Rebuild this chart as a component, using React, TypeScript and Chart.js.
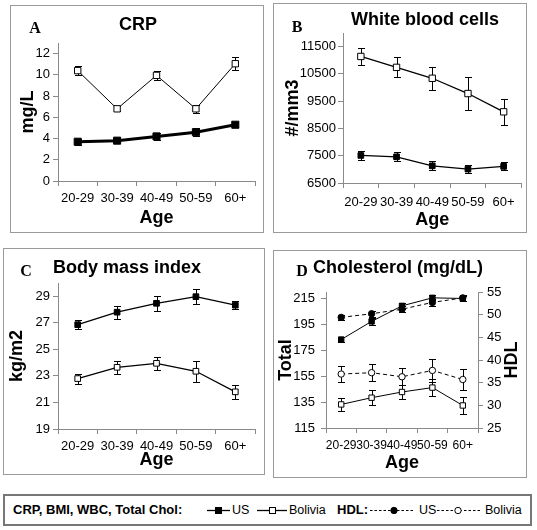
import React, { useEffect, useRef } from 'react';
import { Chart, registerables } from 'chart.js';

Chart.register(...registerables);

const SANS = "'Liberation Sans', Arial, Helvetica, sans-serif";
const SERIF = "'Liberation Serif', 'Times New Roman', serif";
Chart.defaults.font.family = SANS;
Chart.defaults.color = '#000';

// ---------- data ----------
const ageGroups = ['20-29', '30-39', '40-49', '50-59', '60+'];

const crpUS = [3.7, 3.8, 4.2, 4.6, 5.3];
const crpUSErr = [0.3, 0.2, 0.3, 0.4, 0.25];
const crpBolivia = [10.4, 6.8, 9.95, 6.8, 11.05];
const crpBoliviaErr = [0.4, 0.25, 0.45, 0.4, 0.6];
const crpTicks = [0, 2, 4, 6, 8, 10, 12];

const wbcUS = [7510, 7460, 7130, 7010, 7110];
const wbcUSErr = [180, 170, 170, 160, 150];
const wbcBolivia = [11140, 10740, 10340, 9780, 9110];
const wbcBoliviaErr = [310, 370, 430, 590, 470];
const wbcTicks = [6500, 7500, 8500, 9500, 10500, 11500];

const bmiUS = [26.86, 27.8, 28.47, 28.97, 28.33];
const bmiUSErr = [0.35, 0.48, 0.58, 0.55, 0.28];
const bmiBolivia = [22.8, 23.65, 23.95, 23.35, 21.8];
const bmiBoliviaErr = [0.38, 0.48, 0.5, 0.78, 0.55];
const bmiTicks = [19, 21, 23, 25, 27, 29];

const cholUS = [183.3, 197.3, 209.3, 215.5, 215.0];
const cholUSErr = [2, 2.5, 2.5, 2, 2];
const cholBolivia = [133.2, 138.4, 142.8, 146.2, 132.4];
const cholBoliviaErr = [5.2, 5.6, 5.5, 6.8, 6.9];
const cholTicks = [115, 135, 155, 175, 195, 215];

const hdlUS = [49.4, 50.2, 51.2, 52.7, 53.7];
const hdlUSErr = [0.5, 0.7, 0.7, 0.8, 0.6];
const hdlBolivia = [36.9, 37.2, 36.3, 37.7, 35.7];
const hdlBoliviaErr = [1.8, 1.9, 1.9, 2.6, 2.4];
const hdlTicks = [25, 30, 35, 40, 45, 50, 55];

// ---------- plugins ----------
const errorBarPlugin = {
  id: 'errorBars',
  beforeDatasetsDraw(chart: any) {
    const ctx = chart.ctx;
    chart.data.datasets.forEach((ds: any, i: number) => {
      const errs = ds.errors;
      if (!errs) return;
      const meta = chart.getDatasetMeta(i);
      const ys = chart.scales[meta.yAxisID];
      ctx.save();
      ctx.strokeStyle = '#000';
      ctx.lineWidth = 1;
      ctx.setLineDash([]);
      meta.data.forEach((pt: any, j: number) => {
        const v = ds.data[j];
        const e = errs[j];
        const x = Math.round(pt.x) + 0.5;
        const y1 = Math.round(ys.getPixelForValue(v + e)) + 0.5;
        const y2 = Math.round(ys.getPixelForValue(v - e)) + 0.5;
        ctx.beginPath();
        ctx.moveTo(x, y1);
        ctx.lineTo(x, y2);
        ctx.moveTo(x - 3.5, y1);
        ctx.lineTo(x + 3.5, y1);
        ctx.moveTo(x - 3.5, y2);
        ctx.lineTo(x + 3.5, y2);
        ctx.stroke();
      });
      ctx.restore();
    });
  },
};

const panelTextPlugin = {
  id: 'panelText',
  afterDraw(chart: any, _args: any, opts: any) {
    const ctx = chart.ctx;
    ctx.save();
    ctx.fillStyle = '#000';
    ctx.textAlign = 'center';
    ctx.textBaseline = 'middle';
    ctx.font = `bold 18px ${SANS}`;
    ctx.fillText(opts.title, opts.titleX, opts.titleY);
    ctx.font = `bold 16px ${SERIF}`;
    ctx.fillText(opts.letter, opts.letterX, opts.letterY);
    if (opts.sideText) {
      ctx.font = `bold 18px ${SANS}`;
      ctx.translate(opts.sideX, opts.sideY);
      ctx.rotate(-Math.PI / 2);
      ctx.fillText(opts.sideText, 0, 0);
    }
    ctx.restore();
  },
};

// ---------- helpers ----------
const AXIS = '#8a8a8a';

function xScale(height: number, labelPad: number, titlePad: number, fontSize = 13) {
  return {
    type: 'category',
    offset: true,
    grid: { display: true, drawOnChartArea: false, drawTicks: true, tickLength: 5, color: AXIS, offset: true },
    border: { display: true, color: AXIS, width: 1 },
    ticks: { color: '#000', font: { size: fontSize }, padding: labelPad, autoSkip: false, maxRotation: 0, minRotation: 0 },
    title: { display: true, text: 'Age', color: '#000', font: { size: 18, weight: 'bold', lineHeight: 1.2 }, padding: { top: 0, bottom: titlePad } },
    afterFit: (s: any) => { s.height = height; },
  };
}

function yScale(o: { width: number; min: number; max: number; ticks: number[]; title?: string; titlePad?: number; labelPad: number; position?: string }) {
  return {
    type: 'linear',
    position: o.position || 'left',
    min: o.min,
    max: o.max,
    bounds: 'data',
    grid: { display: true, drawOnChartArea: false, drawTicks: true, tickLength: 5, color: AXIS },
    border: { display: true, color: AXIS, width: 1 },
    ticks: { color: '#000', font: { size: 13 }, padding: o.labelPad, autoSkip: false, callback: (v: any) => String(v) },
    title: o.title
      ? { display: true, text: o.title, color: '#000', font: { size: 18, weight: 'bold', lineHeight: 1.2 }, padding: { top: o.titlePad || 0, bottom: 0 } }
      : { display: false },
    afterBuildTicks: (s: any) => { s.ticks = o.ticks.map((v) => ({ value: v })); },
    afterFit: (s: any) => { s.width = o.width; },
  };
}

function usSet(data: number[], errors: number[], extra: any = {}) {
  return {
    label: 'US', data, errors,
    borderColor: '#000', backgroundColor: '#000',
    pointStyle: 'rect', pointRadius: 4.5, pointBackgroundColor: '#000', pointBorderColor: '#000', pointBorderWidth: 1,
    borderWidth: 1.3, tension: 0, fill: false,
    ...extra,
  };
}

function bolSet(data: number[], errors: number[], extra: any = {}) {
  return {
    label: 'Bolivia', data, errors,
    borderColor: '#000', backgroundColor: '#fff',
    pointStyle: 'rect', pointRadius: 4.5, pointBackgroundColor: '#fff', pointBorderColor: '#000', pointBorderWidth: 1,
    borderWidth: 1.3, tension: 0, fill: false,
    ...extra,
  };
}

function baseOptions(padTop: number, padRight: number, scales: any, text: any) {
  return {
    responsive: false,
    animation: false,
    events: [],
    layout: { padding: { top: padTop, right: padRight, left: 0, bottom: 0 } },
    scales,
    plugins: { legend: { display: false }, tooltip: { enabled: false }, title: { display: false }, panelText: text },
  };
}

const configA = () => ({
  type: 'line',
  data: {
    labels: ageGroups,
    datasets: [
      usSet(crpUS, crpUSErr, { borderWidth: 3, pointRadius: 5 }),
      bolSet(crpBolivia, crpBoliviaErr, { borderWidth: 1, pointRadius: 4.5 }),
    ],
  },
  options: baseOptions(38, 9, {
    x: xScale(52, 5, 4),
    y: yScale({ width: 48, min: 0, max: 13, ticks: crpTicks, title: 'mg/L', titlePad: 7, labelPad: 3 }),
  }, { title: 'CRP', titleX: 128, titleY: 20, letter: 'A', letterX: 25, letterY: 24 }),
  plugins: [errorBarPlugin, panelTextPlugin],
});

const configB = () => ({
  type: 'line',
  data: {
    labels: ageGroups,
    datasets: [
      usSet(wbcUS, wbcUSErr, { pointRadius: 4 }),
      bolSet(wbcBolivia, wbcBoliviaErr, { pointRadius: 4.5 }),
    ],
  },
  options: baseOptions(30, 4, {
    x: xScale(50, 7, 2),
    y: yScale({ width: 70, min: 6500, max: 12000, ticks: wbcTicks, title: '#/mm3', titlePad: 9, labelPad: 2 }),
  }, { title: 'White blood cells', titleX: 152, titleY: 17, letter: 'B', letterX: 24, letterY: 25 }),
  plugins: [errorBarPlugin, panelTextPlugin],
});

const configC = () => ({
  type: 'line',
  data: {
    labels: ageGroups,
    datasets: [
      usSet(bmiUS, bmiUSErr, { pointRadius: 4 }),
      bolSet(bmiBolivia, bmiBoliviaErr, { pointRadius: 4 }),
    ],
  },
  options: baseOptions(35, 10, {
    x: xScale(46, 5, 4),
    y: yScale({ width: 55, min: 19, max: 30, ticks: bmiTicks, title: 'kg/m2', titlePad: 3, labelPad: 3 }),
  }, { title: 'Body mass index', titleX: 124, titleY: 20, letter: 'C', letterX: 23, letterY: 24 }),
  plugins: [errorBarPlugin, panelTextPlugin],
});

const configD = () => ({
  type: 'line',
  data: {
    labels: ageGroups,
    datasets: [
      usSet(cholUS, cholUSErr, { borderWidth: 1, pointRadius: 3.8, yAxisID: 'y' }),
      bolSet(cholBolivia, cholBoliviaErr, { borderWidth: 1, pointRadius: 3.8, yAxisID: 'y' }),
      usSet(hdlUS, hdlUSErr, { label: 'US HDL', borderWidth: 1, pointStyle: 'circle', pointRadius: 3.2, borderDash: [4, 3], yAxisID: 'y1' }),
      bolSet(hdlBolivia, hdlBoliviaErr, { label: 'Bolivia HDL', borderWidth: 1, pointStyle: 'circle', pointRadius: 3.2, borderDash: [4, 3], yAxisID: 'y1' }),
    ],
  },
  options: baseOptions(42, 0, {
    x: xScale(50, 5, 4, 12),
    y: yScale({ width: 53, min: 115, max: 220, ticks: cholTicks, title: 'Total', titlePad: 2, labelPad: 6 }),
    y1: yScale({ width: 49, min: 25, max: 55, ticks: hdlTicks, labelPad: 4, position: 'right' }),
  }, { title: 'Cholesterol (mg/dL)', titleX: 125, titleY: 18, letter: 'D', letterX: 29, letterY: 22, sideText: 'HDL', sideX: 239, sideY: 110 }),
  plugins: [errorBarPlugin, panelTextPlugin],
});

function ChartPanel(props: { left: number; top: number; width: number; height: number; config: () => any }) {
  const ref = useRef<HTMLCanvasElement>(null);
  useEffect(() => {
    const chart = new Chart(ref.current as HTMLCanvasElement, props.config() as any);
    return () => chart.destroy();
  }, []);
  const { left, top, width, height } = props;
  return (
    <>
      <div style={{ position: 'absolute', left, top, width, height, border: '1px solid #9a9a9a', boxSizing: 'border-box' }} />
      <canvas ref={ref} width={width} height={height} style={{ position: 'absolute', left, top, width, height }} />
    </>
  );
}

function Legend() {
  const txt = (left: number, text: string, bold = false) => (
    <span style={{
      position: 'absolute', left, top: 502, lineHeight: '16px', fontFamily: SANS,
      fontSize: bold ? 13 : 12.5, fontWeight: bold ? 'bold' : 'normal', color: '#000', whiteSpace: 'nowrap',
    }}>{text}</span>
  );
  return (
    <>
      <div style={{ position: 'absolute', left: 3, top: 494, width: 529, height: 32, border: '2px solid #777', boxSizing: 'border-box' }} />
      {txt(13, 'CRP, BMI, WBC, Total Chol:', true)}
      {txt(232, 'US')}
      {txt(289, 'Bolivia')}
      {txt(337, 'HDL:', true)}
      {txt(419, 'US')}
      {txt(485, 'Bolivia')}
      <svg width={537} height={20} style={{ position: 'absolute', left: 0, top: 500 }}>
        <line x1={207} x2={230} y1={10.5} y2={10.5} stroke="#000" strokeWidth={1.3} />
        <rect x={215.5} y={7.5} width={6} height={6} fill="#000" stroke="#000" strokeWidth={1} />
        <line x1={257} x2={287} y1={10.5} y2={10.5} stroke="#000" strokeWidth={1.3} />
        <rect x={269.5} y={7.5} width={6} height={6} fill="#fff" stroke="#000" strokeWidth={1} />
        <line x1={370} x2={415} y1={10.5} y2={10.5} stroke="#000" strokeWidth={1} strokeDasharray="2.5 2" />
        <circle cx={394} cy={10.5} r={3.2} fill="#000" stroke="#000" strokeWidth={1} />
        <line x1={437} x2={480} y1={10.5} y2={10.5} stroke="#000" strokeWidth={1} strokeDasharray="2.5 2" />
        <circle cx={458} cy={10.5} r={3.2} fill="#fff" stroke="#000" strokeWidth={1} />
      </svg>
    </>
  );
}

export default function App() {
  useEffect(() => {
    document.body.style.margin = '0';
  }, []);
  return (
    <div style={{ position: 'relative', width: 537, height: 530, background: '#fff', overflow: 'hidden' }}>
      <ChartPanel left={10} top={5} width={254} height={228} config={configA} />
      <ChartPanel left={273} top={3} width={254} height={230} config={configB} />
      <ChartPanel left={3} top={248} width={262} height={227} config={configC} />
      <ChartPanel left={273} top={250} width={254} height={228} config={configD} />
      <Legend />
    </div>
  );
}
